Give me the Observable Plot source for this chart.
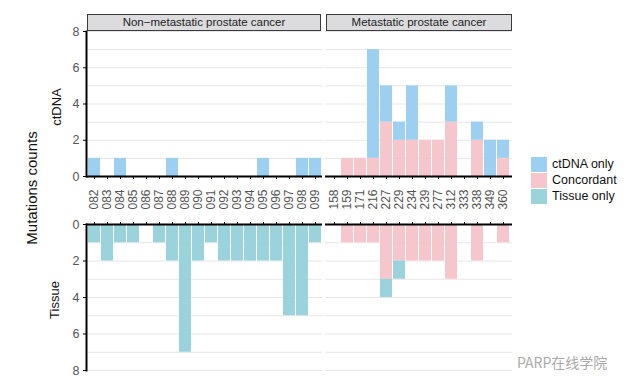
<!DOCTYPE html>
<html><head><meta charset="utf-8">
<script src="https://cdn.jsdelivr.net/npm/d3@7"></script>
<script src="https://cdn.jsdelivr.net/npm/@observablehq/plot@0.6"></script>
<style>
body{margin:0;background:#fff;font-family:"Liberation Sans",Arial,sans-serif;}
#fig{position:relative;width:641px;height:391px;overflow:hidden;background:#fff;}
.panel{position:absolute;}
.strip{position:absolute;box-sizing:border-box;border:1.5px solid #3a3a3a;background:#dcdcdf;font-size:11.5px;color:#222;text-align:center;line-height:14px;}
.lab{position:absolute;transform:translate(-50%,-50%) rotate(-90deg);white-space:nowrap;color:#111;}
.leg{position:absolute;font-size:12.5px;color:#111;line-height:15px;}
.sw{position:absolute;width:16px;height:15px;}
</style></head><body><div id="fig"></div>
<script>
const nonMetSamples = ["082","083","084","085","086","087","088","089","090","091","092","093","094","095","096","097","098","099"];
const nonMetCtDNAOnly = [1,0,1,0,0,0,1,0,0,0,0,0,0,1,0,0,1,1];
const nonMetConcordant = [0,0,0,0,0,0,0,0,0,0,0,0,0,0,0,0,0,0];
const nonMetTissueOnly = [1,2,1,1,0,1,2,7,2,1,2,2,2,2,2,5,5,1];

const metSamples = ["158","159","171","216","227","229","234","239","277","312","333","338","349","360"];
const metCtDNAOnly = [0,0,0,6,2,1,3,0,0,2,0,1,2,1];
const metConcordant = [0,1,1,1,3,2,2,2,2,3,0,2,0,1];
const metTissueOnly = [0,0,0,0,1,1,0,0,0,0,0,0,0,0];

const panelTitles = ["Non\u2212metastatic prostate cancer", "Metastatic prostate cancer"];
const typeNames = ["ctDNA only", "Concordant", "Tissue only"];
const typeColors = ["#9dcff0", "#f5c6cc", "#9ad3dc"];
const yTicks = [0, 2, 4, 6, 8];

function rows(samples, first, firstName, second, secondName) {
  const out = [];
  samples.forEach((s, i) => {
    if (first[i] > 0) out.push({sample: s, type: firstName, count: first[i]});
    if (second[i] > 0) out.push({sample: s, type: secondName, count: second[i]});
  });
  return out;
}

const fig = document.getElementById("fig");
const FONT = "font-family:'Liberation Sans',Arial,sans-serif;font-size:11px;background:transparent;overflow:visible;";

function panel({samples, data, left, top, width, height, ml, mr, mt, mb, bottom, showY}) {
  const marks = [
    Plot.gridY(d3.range(1, 9), {stroke: "#e6e6ea", strokeOpacity: 1, strokeWidth: 1}),
    Plot.barY(data, {x: "sample", y: "count", fill: "type", order: ["Concordant", "ctDNA only", "Tissue only"]}),
    Plot.ruleY([0], {stroke: "#000", strokeWidth: 2})
  ];
  if (!bottom) {
    marks.push(Plot.axisX({anchor: "bottom", tickRotate: -90, tickSize: 3, tickPadding: 10, stroke: "#000", fill: "#555", fontSize: 12, label: null}));
  } else {
    marks.push(Plot.axisX({anchor: "top", tickSize: 3, tickFormat: () => "", stroke: "#000", label: null}));
  }
  if (showY) {
    marks.push(Plot.axisY({ticks: yTicks, tickSize: 3, tickPadding: 4, stroke: "#000", fill: "#555", fontSize: 12.5, label: null}));
    marks.push(Plot.frame({anchor: "left", stroke: "#000", strokeWidth: 2}));
  }
  const svg = Plot.plot({
    width, height, marginLeft: ml, marginRight: mr, marginTop: mt, marginBottom: mb,
    style: FONT,
    x: {domain: samples, padding: 0.1, label: null, axis: null},
    y: {domain: [0, 8], reverse: bottom, label: null, axis: null},
    color: {domain: typeNames, range: typeColors},
    marks
  });
  const div = document.createElement("div");
  div.className = "panel";
  div.style.left = left + "px";
  div.style.top = top + "px";
  div.appendChild(svg);
  fig.appendChild(div);
}

panel({samples: nonMetSamples, data: rows(nonMetSamples, nonMetConcordant, "Concordant", nonMetCtDNAOnly, "ctDNA only"),
  left: 0, top: 0, width: 322, height: 222, ml: 86, mr: 0, mt: 31, mb: 46, bottom: false, showY: true});
panel({samples: metSamples, data: rows(metSamples, metConcordant, "Concordant", metCtDNAOnly, "ctDNA only"),
  left: 322, top: 0, width: 190, height: 222, ml: 3, mr: 0, mt: 31, mb: 46, bottom: false, showY: false});
panel({samples: nonMetSamples, data: rows(nonMetSamples, nonMetConcordant, "Concordant", nonMetTissueOnly, "Tissue only"),
  left: 0, top: 212, width: 322, height: 170, ml: 86, mr: 0, mt: 12, mb: 12, bottom: true, showY: true});
panel({samples: metSamples, data: rows(metSamples, metConcordant, "Concordant", metTissueOnly, "Tissue only"),
  left: 322, top: 212, width: 190, height: 170, ml: 3, mr: 0, mt: 12, mb: 12, bottom: true, showY: false});

function addDiv(cls, css, text) {
  const d = document.createElement("div");
  d.className = cls;
  d.style.cssText = css;
  if (text != null) d.textContent = text;
  fig.appendChild(d);
  return d;
}
addDiv("strip", "left:87px;top:14px;width:234px;height:17px;", panelTitles[0]);
addDiv("strip", "left:326px;top:14px;width:186px;height:17px;", panelTitles[1]);

addDiv("lab", "left:31px;top:188px;font-size:15px;", "Mutations counts");
addDiv("lab", "left:56px;top:107px;font-size:13px;", "ctDNA");
addDiv("lab", "left:54px;top:300px;font-size:13px;", "Tissue");

typeNames.forEach((t, i) => {
  addDiv("sw", `left:531px;top:${157 + i * 16}px;background:${typeColors[i]};`);
  addDiv("leg", `left:552px;top:${157 + i * 16}px;`, t);
});

addDiv("leg", "left:517px;top:353px;font-size:14px;line-height:18px;color:#aaa;font-family:'Noto Sans CJK SC',sans-serif;", "PARP在线学院");
</script></body></html>
